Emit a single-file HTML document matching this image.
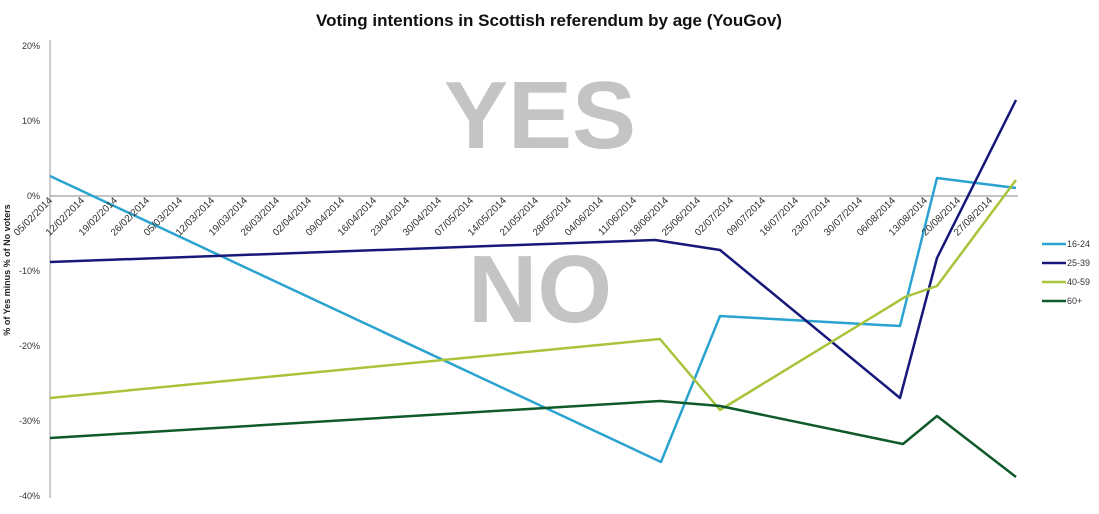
<!DOCTYPE html>
<html><head><style>
body{margin:0;background:#fff;}
svg{display:block;font-family:"Liberation Sans",sans-serif;}
</style></head><body>
<svg width="1099" height="514" viewBox="0 0 1099 514">
<text x="549" y="26" text-anchor="middle" font-size="17" font-weight="bold" fill="#111">Voting intentions in Scottish referendum by age (YouGov)</text>
<text x="540" y="148" text-anchor="middle" font-size="96" font-weight="bold" fill="#c4c4c4">YES</text>
<text x="540" y="322" text-anchor="middle" font-size="96" font-weight="bold" fill="#c4c4c4">NO</text>
<line x1="50" y1="40" x2="50" y2="498" stroke="#999" stroke-width="1"/>
<line x1="50" y1="196" x2="1018" y2="196" stroke="#888" stroke-width="1"/>
<g font-size="9" fill="#333" text-anchor="end">
<text x="40" y="49">20%</text><text x="40" y="124">10%</text><text x="40" y="199">0%</text>
<text x="40" y="274">-10%</text><text x="40" y="349">-20%</text><text x="40" y="424">-30%</text><text x="40" y="499">-40%</text>
</g>
<text transform="translate(10,270) rotate(-90)" text-anchor="middle" font-size="9" font-weight="bold" fill="#222">% of Yes minus % of No voters</text>
<g font-size="10" fill="#333" text-anchor="end" id="lbl"></g>
<g fill="none" stroke-width="2.5" stroke-linejoin="round">
<polyline stroke="#2aa3d0" points="50,176 661,462 720,316 900,326 937,178 1016,188"/>
<polyline stroke="#17187a" points="50,262 655,240 720,250 900,398 937,258 1016,100"/>
<polyline stroke="#a8c43a" points="50,398 660,339 720,410 905,297 937,286 1016,180"/>
<polyline stroke="#0f5a2a" points="50,438 660,401 720,406 903,444 937,416 1016,477"/>
</g>
<g stroke-width="2.5">
<line x1="1042" y1="244" x2="1066" y2="244" stroke="#2aa3d0"/>
<line x1="1042" y1="263" x2="1066" y2="263" stroke="#17187a"/>
<line x1="1042" y1="282" x2="1066" y2="282" stroke="#a8c43a"/>
<line x1="1042" y1="301" x2="1066" y2="301" stroke="#0f5a2a"/>
</g>
<g font-size="9" fill="#333">
<text x="1067" y="247">16-24</text><text x="1067" y="266">25-39</text>
<text x="1067" y="285">40-59</text><text x="1067" y="304">60+</text>
</g>
<g font-size="10" fill="#333" text-anchor="end">
<text transform="translate(53,201) rotate(-45)">05/02/2014</text>
<text transform="translate(85,201) rotate(-45)">12/02/2014</text>
<text transform="translate(118,201) rotate(-45)">19/02/2014</text>
<text transform="translate(150,201) rotate(-45)">26/02/2014</text>
<text transform="translate(183,201) rotate(-45)">05/03/2014</text>
<text transform="translate(215,201) rotate(-45)">12/03/2014</text>
<text transform="translate(248,201) rotate(-45)">19/03/2014</text>
<text transform="translate(280,201) rotate(-45)">26/03/2014</text>
<text transform="translate(312,201) rotate(-45)">02/04/2014</text>
<text transform="translate(345,201) rotate(-45)">09/04/2014</text>
<text transform="translate(377,201) rotate(-45)">16/04/2014</text>
<text transform="translate(410,201) rotate(-45)">23/04/2014</text>
<text transform="translate(442,201) rotate(-45)">30/04/2014</text>
<text transform="translate(474,201) rotate(-45)">07/05/2014</text>
<text transform="translate(507,201) rotate(-45)">14/05/2014</text>
<text transform="translate(539,201) rotate(-45)">21/05/2014</text>
<text transform="translate(572,201) rotate(-45)">28/05/2014</text>
<text transform="translate(604,201) rotate(-45)">04/06/2014</text>
<text transform="translate(637,201) rotate(-45)">11/06/2014</text>
<text transform="translate(669,201) rotate(-45)">18/06/2014</text>
<text transform="translate(701,201) rotate(-45)">25/06/2014</text>
<text transform="translate(734,201) rotate(-45)">02/07/2014</text>
<text transform="translate(766,201) rotate(-45)">09/07/2014</text>
<text transform="translate(799,201) rotate(-45)">16/07/2014</text>
<text transform="translate(831,201) rotate(-45)">23/07/2014</text>
<text transform="translate(863,201) rotate(-45)">30/07/2014</text>
<text transform="translate(896,201) rotate(-45)">06/08/2014</text>
<text transform="translate(928,201) rotate(-45)">13/08/2014</text>
<text transform="translate(961,201) rotate(-45)">20/08/2014</text>
<text transform="translate(993,201) rotate(-45)">27/08/2014</text>
</g>
</svg>
</body></html>
